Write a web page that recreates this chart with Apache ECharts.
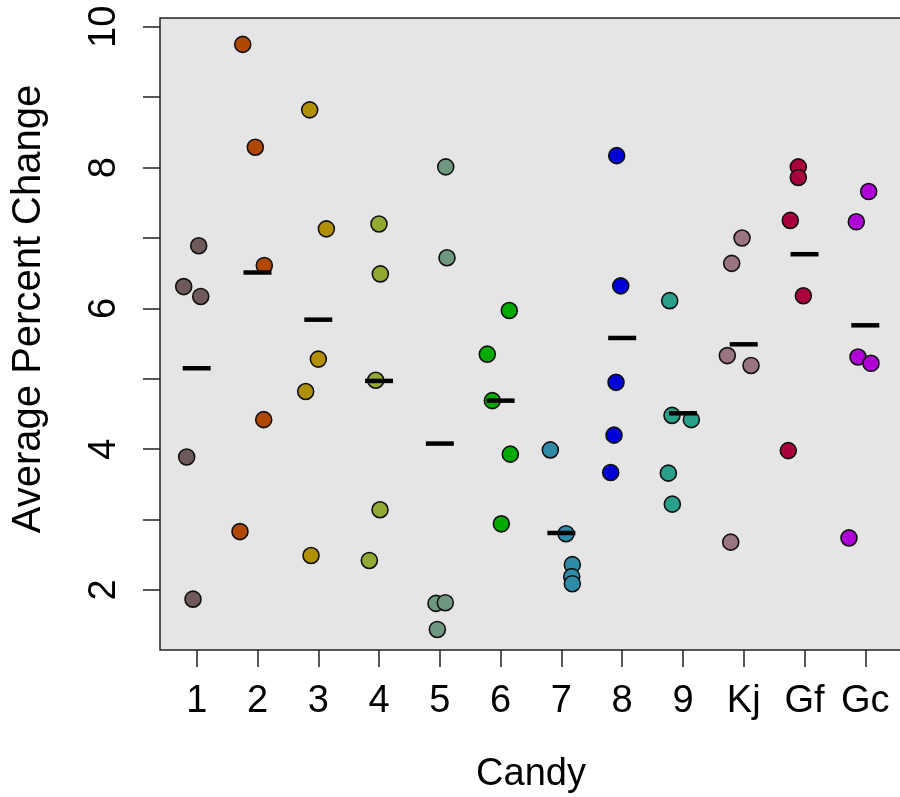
<!DOCTYPE html>
<html><head><meta charset="utf-8">
<script src="https://cdn.jsdelivr.net/npm/echarts@6/dist/echarts.min.js"></script>
<style>html,body{margin:0;padding:0;background:#fff}#c{width:900px;height:797px}</style>
</head><body><div id="c"></div>
<script>
// Candy categories
const categories = ['1','2','3','4','5','6','7','8','9','Kj','Gf','Gc'];
// jittered x positions of each observation (category index + jitter)
const jitterX = [
  [1.033, 0.786, 1.066, 0.835, 0.939],
  [1.757, 1.964, 2.112, 2.102, 1.712],
  [2.859, 3.133, 3.001, 2.793, 2.881],
  [3.999, 4.021, 3.945, 4.016, 3.840],
  [5.097, 5.118, 4.937, 5.090, 4.959],
  [6.143, 5.781, 5.864, 6.160, 6.012],
  [6.818, 7.076, 7.180, 7.170, 7.180],
  [7.910, 7.976, 7.899, 7.866, 7.811],
  [8.782, 8.820, 9.138, 8.760, 8.825],
  [9.972, 9.802, 9.730, 10.120, 9.786],
  [10.898, 10.898, 10.766, 10.981, 10.733],
  [12.056, 11.852, 11.880, 12.094, 11.732]
];
// Average percent change values
const values = [
  [6.89, 6.31, 6.17, 3.89, 1.87],
  [9.75, 8.29, 6.61, 4.42, 2.83],
  [8.82, 7.13, 5.28, 4.82, 2.49],
  [7.20, 6.49, 4.98, 3.14, 2.42],
  [8.01, 6.72, 1.81, 1.82, 1.44],
  [5.97, 5.35, 4.69, 3.93, 2.94],
  [3.99, 2.80, 2.36, 2.19, 2.09],
  [8.17, 6.32, 4.95, 4.20, 3.67],
  [6.11, 4.48, 4.42, 3.66, 3.22],
  [7.00, 6.64, 5.33, 5.19, 2.68],
  [8.01, 7.86, 7.25, 6.18, 3.98],
  [7.66, 7.23, 5.31, 5.22, 2.74]
];
// group mean markers
const means = [5.15, 6.51, 5.84, 4.97, 4.08, 4.69, 2.81, 5.58, 4.51, 5.49, 6.77, 5.76];
// axis ticks
const yTicks = [2, 3, 4, 5, 6, 7, 8, 9, 10];
const yLabels = [2, 4, 6, 8, 10];
const xTicks = [1, 2, 3, 4, 5, 6, 7, 8, 9, 10, 11, 12];

const colors = ['#6e5a5a', '#b04800', '#b09000', '#90aa32', '#6f9880', '#00aa00',
                '#2e8ca8', '#0000d8', '#28a08a', '#9a7480', '#a8003c', '#b000d8'];

const FONT = 'Liberation Sans, Arial, sans-serif';
const FS = 38;

const series = categories.map((c, g) => ({
  type: 'scatter',
  name: c,
  symbol: 'circle',
  symbolSize: 16,
  z: 2,
  itemStyle: { color: colors[g], borderColor: '#111', borderWidth: 1.6, opacity: 1 },
  emphasis: { disabled: true },
  data: jitterX[g].map((x, i) => [x, values[g][i]])
}));
series.push({
  type: 'scatter',
  name: 'mean',
  symbol: 'rect',
  symbolSize: [28, 4.5],
  z: 5,
  itemStyle: { color: '#000', opacity: 1 },
  emphasis: { disabled: true },
  data: means.map((m, i) => [i + 1, m])
});

const chart = echarts.init(document.getElementById('c'), null, { renderer: 'canvas' });
chart.setOption({
  animation: false,
  backgroundColor: '#ffffff',
  grid: {
    left: 160, top: 18, width: 742, height: 632,
    outerBoundsMode: 'none', containLabel: false,
    show: true, backgroundColor: '#e5e5e5', borderColor: '#222', borderWidth: 1.5
  },
  xAxis: {
    type: 'value', min: 0.396, max: 12.604,
    name: 'Candy', nameLocation: 'middle', nameGap: 106,
    nameTextStyle: { fontFamily: FONT, fontSize: FS, color: '#000' },
    axisLine: { show: false },
    splitLine: { show: false },
    axisTick: { show: true, length: 17, customValues: xTicks, lineStyle: { color: '#222', width: 1.5 } },
    axisLabel: {
      customValues: xTicks, margin: 33,
      fontFamily: FONT, fontSize: FS, color: '#000',
      formatter: v => categories[Math.round(v) - 1]
    }
  },
  yAxis: {
    type: 'value', min: 1.148, max: 10.125,
    name: 'Average Percent Change', nameLocation: 'middle', nameGap: 111, nameRotate: 90,
    nameTextStyle: { fontFamily: FONT, fontSize: 40, color: '#000', padding: [0, 0, 0, 50] },
    axisLine: { show: false },
    splitLine: { show: false },
    axisTick: { show: true, length: 17, customValues: yTicks, lineStyle: { color: '#222', width: 1.5 } },
    axisLabel: {
      customValues: yLabels, rotate: 90, margin: 36,
      fontFamily: FONT, fontSize: FS, color: '#000'
    }
  },
  series: series
});
</script>
</body></html>
